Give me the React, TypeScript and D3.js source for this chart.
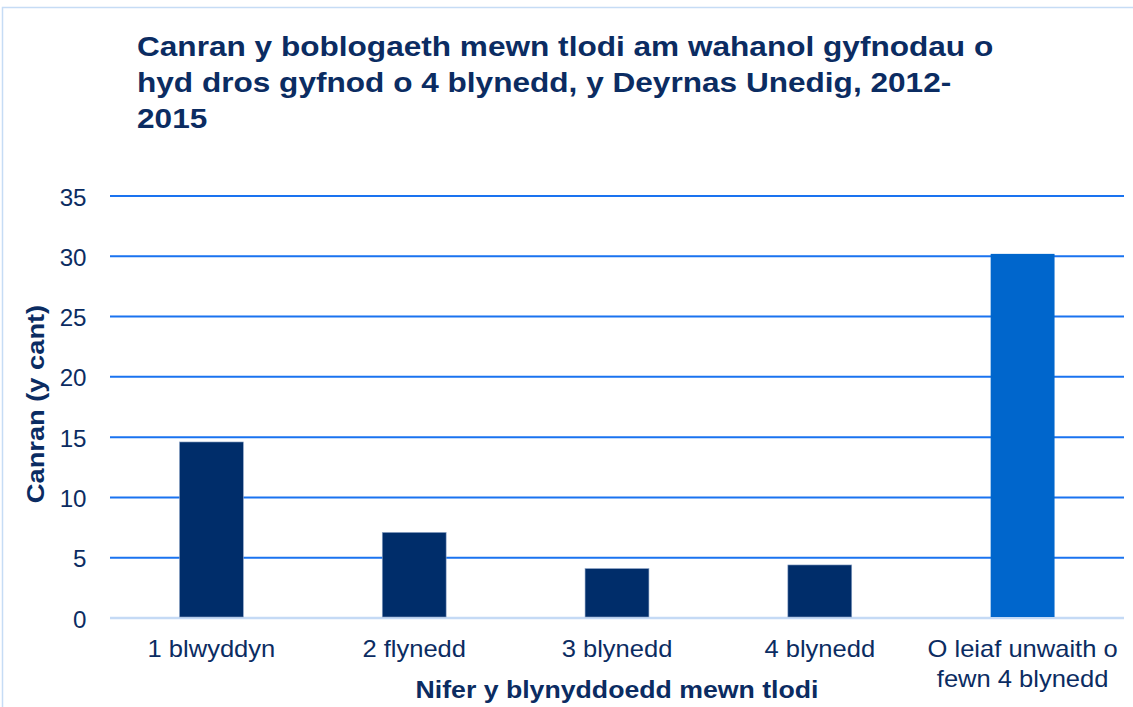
import React from "react";
import * as d3 from "d3";

const categories: string[][] = [
  ["1 blwyddyn"],
  ["2 flynedd"],
  ["3 blynedd"],
  ["4 blynedd"],
  ["O leiaf unwaith o", "fewn 4 blynedd"],
];
const values = [14.6, 7.1, 4.1, 4.4, 30.2];
const barColors = ["#002d6a", "#002d6a", "#002d6a", "#002d6a", "#0066cc"];
const yTicks = [0, 5, 10, 15, 20, 25, 30, 35];
const titleLines = [
  "Canran y boblogaeth mewn tlodi am wahanol gyfnodau o",
  "hyd dros gyfnod o 4 blynedd, y Deyrnas Unedig, 2012-",
  "2015",
];
const xTitle = "Nifer y blynyddoedd mewn tlodi";
const yTitle = "Canran (y cant)";

export default function App() {
  const W = 1133, H = 707;
  const left = 110, right = 1124, top = 196, bottom = 618;
  const x = d3.scaleBand<number>().domain(d3.range(values.length)).range([left, right]).paddingInner(0.685).paddingOuter(0.3425);
  const y = d3.scaleLinear().domain([0, 35]).range([bottom, top]);
  const font = "'Liberation Sans', Arial, sans-serif";
  const txt = "#0b2c62";
  return (
    <svg width={W} height={H} style={{ position: "absolute", left: 0, top: 0 }} fontFamily={font}>
      <rect x={0} y={0} width={W} height={H} fill="#fff" />
      <rect x={2.5} y={7.5} width={W + 5} height={H} fill="none" stroke="#c6dcf5" strokeWidth={1.5} />
      {titleLines.map((t, i) => (
        <text key={i} transform={`translate(137, ${56 + i * 36}) scale(1.17, 1)`} fontSize={27} fontWeight="bold" fill={txt}>{t}</text>
      ))}
      {yTicks.map((t) => (
        <g key={t}>
          <line x1={left} x2={right} y1={y(t)} y2={y(t)} stroke={t === 0 ? "#c5daf5" : "#1a73f0"} strokeWidth={t === 0 ? 2.5 : 2} />
          <text transform={`translate(86.5, ${y(t) + 9.5}) scale(1.05, 1)`} textAnchor="end" fontSize={23} fill={txt}>{t}</text>
        </g>
      ))}
      {values.map((v, i) => (
        <rect key={i} x={x(i)} y={y(v)} width={x.bandwidth()} height={y(0) - y(v) - 1} fill={barColors[i]}
          stroke={i < 4 ? "#8fa6c8" : "none"} strokeWidth={0.6} />
      ))}
      {categories.map((lines, i) => (
        <g key={i}>
          {lines.map((l, j) => (
            <text key={j} transform={`translate(${(x(i) as number) + x.bandwidth() / 2}, ${657 + j * 30}) scale(1.11, 1)`}
              textAnchor="middle" fontSize={23} fill={txt}>{l}</text>
          ))}
        </g>
      ))}
      <text transform="translate(617, 698) scale(1.16, 1)" textAnchor="middle" fontSize={23} fontWeight="bold" fill={txt}>{xTitle}</text>
      <text transform="translate(44, 404) rotate(-90) scale(1.16, 1)" textAnchor="middle" fontSize={23.5} fontWeight="bold" fill={txt}>{yTitle}</text>
    </svg>
  );
}
